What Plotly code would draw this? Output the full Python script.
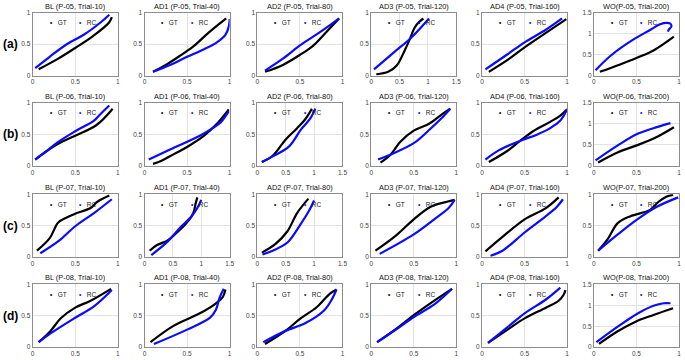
import plotly.graph_objects as go

# ---------------- data ----------------
row_labels = ["(a)", "(b)", "(c)", "(d)"]

titles_a = ["BL (P-05, Trial-10)", "AD1 (P-05, Trial-40)", "AD2 (P-05, Trial-80)",
            "AD3 (P-05, Trial-120)", "AD4 (P-05, Trial-160)", "WO(P-05, Trial-200)"]
titles_b = ["BL (P-06, Trial-10)", "AD1 (P-06, Trial-40)", "AD2 (P-06, Trial-80)",
            "AD3 (P-06, Trial-120)", "AD4 (P-06, Trial-160)", "WO(P-06, Trial-200)"]
titles_c = ["BL (P-07, Trial-10)", "AD1 (P-07, Trial-40)", "AD2 (P-07, Trial-80)",
            "AD3 (P-07, Trial-120)", "AD4 (P-07, Trial-160)", "WO(P-07, Trial-200)"]
titles_d = ["BL (P-08, Trial-10)", "AD1 (P-08, Trial-40)", "AD2 (P-08, Trial-80)",
            "AD3 (P-08, Trial-120)", "AD4 (P-08, Trial-160)", "WO(P-08, Trial-200)"]

x_max_a = [1, 1, 1, 1.5, 1, 1]
x_max_b = [1, 1, 1.5, 1, 1, 1]
x_max_c = [1, 1.5, 1.5, 1, 1, 1]
x_max_d = [1, 1, 1, 1, 1, 1]
y_max_a = [1, 1, 1, 1, 1, 1.5]
y_max_b = [1, 1, 1, 1, 1, 1.5]
y_max_c = [1, 1, 1, 1, 1, 1]
y_max_d = [1, 1, 1, 1, 1, 1.5]

tick_vals = [0, 0.5, 1, 1.5]
tick_text = ["0", "0.5", "1", "1.5"]

# Row (a)
gt_x_a = [[0.07, 0.3, 0.5, 0.7, 0.9, 0.93],
          [0.1, 0.25, 0.4, 0.57, 0.75, 0.96],
          [0.09, 0.3, 0.5, 0.65, 0.8, 0.96],
          [0.09, 0.3, 0.45, 0.6, 0.68, 0.77, 0.85, 0.92],
          [0.08, 0.3, 0.5, 0.75, 0.99],
          [0.07, 0.3, 0.5, 0.7, 0.94]]
gt_y_a = [[0.1, 0.27, 0.44, 0.62, 0.85, 0.93],
          [0.06, 0.17, 0.3, 0.46, 0.68, 0.91],
          [0.06, 0.17, 0.33, 0.47, 0.68, 0.91],
          [0.02, 0.06, 0.16, 0.42, 0.58, 0.77, 0.86, 0.91],
          [0.06, 0.25, 0.45, 0.68, 0.9],
          [0.09, 0.26, 0.42, 0.6, 0.93]]
rc_x_a = [[0.03, 0.2, 0.4, 0.6, 0.8, 0.9],
          [0.1, 0.3, 0.5, 0.7, 0.85, 0.95, 0.99, 1.0],
          [0.09, 0.3, 0.5, 0.7, 0.85, 0.96],
          [0.05, 0.4, 0.7, 1.02],
          [0.04, 0.3, 0.5, 0.75, 0.94],
          [0.02, 0.2, 0.47, 0.67, 0.77, 0.84, 0.9, 0.91, 0.88, 0.87]]
rc_y_a = [[0.12, 0.3, 0.5, 0.65, 0.85, 0.97],
          [0.06, 0.17, 0.3, 0.42, 0.53, 0.65, 0.78, 0.9],
          [0.08, 0.27, 0.48, 0.66, 0.8, 0.91],
          [0.1, 0.37, 0.6, 0.91],
          [0.1, 0.34, 0.53, 0.73, 0.91],
          [0.13, 0.48, 0.87, 1.1, 1.22, 1.26, 1.24, 1.17, 1.1, 1.05]]

# Row (b)
gt_x_b = [[0.03, 0.15, 0.3, 0.5, 0.75, 0.94],
          [0.1, 0.2, 0.35, 0.5, 0.7, 0.85, 0.99],
          [0.08, 0.27, 0.5, 0.7, 0.85, 0.96],
          [0.11, 0.23, 0.34, 0.5, 0.68, 0.83, 0.93],
          [0.08, 0.3, 0.45, 0.6, 0.8, 0.92, 1.0],
          [0.05, 0.29, 0.52, 0.75, 0.94]]
gt_y_b = [[0.1, 0.22, 0.35, 0.48, 0.65, 0.91],
          [0.03, 0.08, 0.19, 0.3, 0.48, 0.67, 0.9],
          [0.06, 0.16, 0.42, 0.6, 0.75, 0.91],
          [0.05, 0.18, 0.38, 0.56, 0.67, 0.82, 0.91],
          [0.06, 0.24, 0.4, 0.55, 0.7, 0.8, 0.9],
          [0.08, 0.33, 0.5, 0.7, 0.92]]
rc_x_b = [[0.03, 0.15, 0.3, 0.5, 0.72, 0.8, 0.9],
          [0.05, 0.3, 0.65, 0.8, 0.9, 0.99],
          [0.08, 0.27, 0.56, 0.77, 0.93, 1.02],
          [0.08, 0.23, 0.5, 0.68, 0.82, 0.93],
          [0.04, 0.2, 0.45, 0.65, 0.8, 0.92, 1.0],
          [0.02, 0.29, 0.52, 0.75, 0.9]]
rc_y_b = [[0.1, 0.22, 0.38, 0.55, 0.72, 0.83, 0.96],
          [0.1, 0.26, 0.48, 0.6, 0.7, 0.87],
          [0.06, 0.15, 0.31, 0.58, 0.75, 0.91],
          [0.1, 0.18, 0.36, 0.57, 0.75, 0.91],
          [0.1, 0.25, 0.4, 0.5, 0.6, 0.72, 0.9],
          [0.13, 0.5, 0.77, 0.93, 1.02]]

# Row (c)
gt_x_c = [[0.05, 0.2, 0.3, 0.4, 0.5, 0.68, 0.76, 0.9],
          [0.09, 0.22, 0.4, 0.51, 0.74, 0.86, 0.9, 0.93],
          [0.08, 0.32, 0.53, 0.7, 0.9],
          [0.05, 0.29, 0.5, 0.7, 0.89, 0.98],
          [0.04, 0.24, 0.5, 0.75, 0.9],
          [0.05, 0.16, 0.28, 0.43, 0.66, 0.76, 0.85, 0.93]]
gt_y_c = [[0.1, 0.3, 0.55, 0.63, 0.69, 0.78, 0.88, 0.98],
          [0.1, 0.19, 0.26, 0.34, 0.54, 0.7, 0.85, 0.95],
          [0.07, 0.21, 0.41, 0.7, 0.93],
          [0.1, 0.34, 0.6, 0.8, 0.88, 0.91],
          [0.09, 0.32, 0.6, 0.78, 0.95],
          [0.1, 0.28, 0.54, 0.65, 0.75, 0.88, 0.96, 0.99]]
rc_x_c = [[0.09, 0.31, 0.5, 0.72, 0.93],
          [0.12, 0.4, 0.63, 0.83, 0.93, 1.0],
          [0.09, 0.27, 0.53, 0.76, 0.9, 1.0],
          [0.1, 0.5, 0.74, 0.91, 0.98],
          [0.1, 0.24, 0.5, 0.75, 0.88, 0.95],
          [0.05, 0.28, 0.51, 0.74, 0.99]]
rc_y_c = [[0.06, 0.26, 0.49, 0.7, 0.92],
          [0.03, 0.24, 0.47, 0.65, 0.78, 0.91],
          [0.04, 0.1, 0.23, 0.52, 0.72, 0.9],
          [0.05, 0.36, 0.6, 0.78, 0.91],
          [0.02, 0.1, 0.39, 0.65, 0.8, 0.92],
          [0.1, 0.36, 0.6, 0.8, 0.95]]

# Row (d)
gt_x_d = [[0.07, 0.21, 0.33, 0.5, 0.68, 0.92],
          [0.07, 0.34, 0.65, 0.84, 0.92, 0.95],
          [0.09, 0.33, 0.5, 0.7, 0.85, 0.93],
          [0.07, 0.3, 0.5, 0.75, 0.95],
          [0.07, 0.3, 0.5, 0.75, 0.9, 0.96, 0.98],
          [0.06, 0.28, 0.49, 0.7, 0.93]]
gt_y_d = [[0.08, 0.26, 0.46, 0.63, 0.74, 0.93],
          [0.08, 0.34, 0.54, 0.7, 0.8, 0.92],
          [0.05, 0.26, 0.45, 0.64, 0.85, 0.92],
          [0.08, 0.3, 0.51, 0.75, 0.93],
          [0.07, 0.28, 0.46, 0.63, 0.74, 0.84, 0.91],
          [0.08, 0.38, 0.61, 0.77, 0.93]]
rc_x_d = [[0.07, 0.21, 0.5, 0.72, 0.93],
          [0.11, 0.5, 0.77, 0.84, 0.88, 0.93],
          [0.07, 0.33, 0.56, 0.78, 0.87, 0.93],
          [0.07, 0.3, 0.5, 0.75, 0.95],
          [0.07, 0.3, 0.5, 0.75, 0.92],
          [0.03, 0.28, 0.51, 0.7, 0.82, 0.9]]
rc_y_d = [[0.08, 0.22, 0.47, 0.65, 0.91],
          [0.05, 0.28, 0.47, 0.6, 0.78, 0.93],
          [0.08, 0.26, 0.38, 0.58, 0.75, 0.92],
          [0.08, 0.29, 0.48, 0.69, 0.93],
          [0.07, 0.32, 0.54, 0.76, 0.95],
          [0.12, 0.49, 0.8, 0.99, 1.05, 1.05]]

series_names = ["GT", "RC"]
series_colors = ["#000000", "#0a0aff"]

# ---------------- layout geometry (pixels) ----------------
W, H = 685, 360
col_left_px = [31, 144, 258, 373, 485, 598]
row_top_px = [9, 101, 194, 286]
ax_w_px, ax_h_px = 86, 64
legend_offsets_px = [15, 45]   # horizontal offset of each legend entry from axes left

FONT = "Liberation Sans, Arial, sans-serif"

rows = [
    (titles_a, x_max_a, y_max_a, gt_x_a, gt_y_a, rc_x_a, rc_y_a),
    (titles_b, x_max_b, y_max_b, gt_x_b, gt_y_b, rc_x_b, rc_y_b),
    (titles_c, x_max_c, y_max_c, gt_x_c, gt_y_c, rc_x_c, rc_y_c),
    (titles_d, x_max_d, y_max_d, gt_x_d, gt_y_d, rc_x_d, rc_y_d),
]

fig = go.Figure()
layout_updates = {}
annotations = []

k = 0
for r, (titles, xm, ym, gx, gy, rx, ry) in enumerate(rows):
    top = row_top_px[r]
    y0 = 1 - (top + ax_h_px) / H
    y1 = 1 - top / H
    for c in range(6):
        k += 1
        sfx = "" if k == 1 else str(k)
        left = col_left_px[c]
        x0 = left / W
        x1 = (left + ax_w_px) / W
        nx = len([v for v in tick_vals if v <= xm[c]])
        ny = len([v for v in tick_vals if v <= ym[c]])
        axis_common = dict(
            showline=True, mirror=True, linecolor="#8c8c8c", linewidth=1,
            showgrid=True, gridcolor="#e3e3e3", gridwidth=1,
            zeroline=False, ticks="", ticklen=0, fixedrange=True,
            tickfont=dict(family=FONT, size=6.5, color="#444444"),
        )
        layout_updates["xaxis" + sfx] = dict(
            axis_common, domain=[x0, x1], range=[0, xm[c]],
            anchor="y" + sfx, tickvals=tick_vals[:nx], ticktext=tick_text[:nx],
        )
        layout_updates["yaxis" + sfx] = dict(
            axis_common, domain=[y0, y1], range=[0, ym[c]],
            anchor="x" + sfx, tickvals=tick_vals[:ny], ticktext=tick_text[:ny],
        )
        # curves
        for name, color, xs, ys in [(series_names[0], series_colors[0], gx[c], gy[c]),
                                    (series_names[1], series_colors[1], rx[c], ry[c])]:
            fig.add_trace(go.Scatter(
                x=xs, y=ys, mode="lines", name=name,
                line=dict(color=color, width=2.2, shape="spline", smoothing=1.0),
                xaxis="x" + sfx, yaxis="y" + sfx,
                showlegend=False, hoverinfo="skip",
            ))
        # in-axes legend: dot + label, as in the original
        for name, color, off in zip(series_names, series_colors, legend_offsets_px):
            annotations.append(dict(
                text='<span style="color:%s">•</span>&nbsp;&nbsp;&nbsp;%s' % (color, name),
                xref="paper", yref="paper",
                x=(left + off) / W, y=1 - (top + 10) / H,
                xanchor="left", yanchor="middle", showarrow=False,
                font=dict(family=FONT, size=6.5, color="#222222"),
            ))
        annotations.append(dict(
            text=titles[c], xref="paper", yref="paper",
            x=(left + ax_w_px / 2) / W, y=y1, xanchor="center", yanchor="bottom",
            showarrow=False,
            font=dict(family=FONT, size=7.4, color="#111111"),
        ))
    annotations.append(dict(
        text="<b>" + row_labels[r] + "</b>", xref="paper", yref="paper",
        x=9 / W, y=1 - (top + ax_h_px / 2) / H, xanchor="center", yanchor="middle",
        showarrow=False, font=dict(family=FONT, size=12, color="#000000"),
    ))

fig.update_layout(
    width=W, height=H,
    margin=dict(l=0, r=0, t=0, b=0),
    paper_bgcolor="white", plot_bgcolor="white",
    showlegend=False,
    annotations=annotations,
    **layout_updates,
)

fig.write_html(
    "out.html",
    config={"displayModeBar": False},
    post_script="document.body.style.margin='0';document.body.style.overflow='hidden';",
)
